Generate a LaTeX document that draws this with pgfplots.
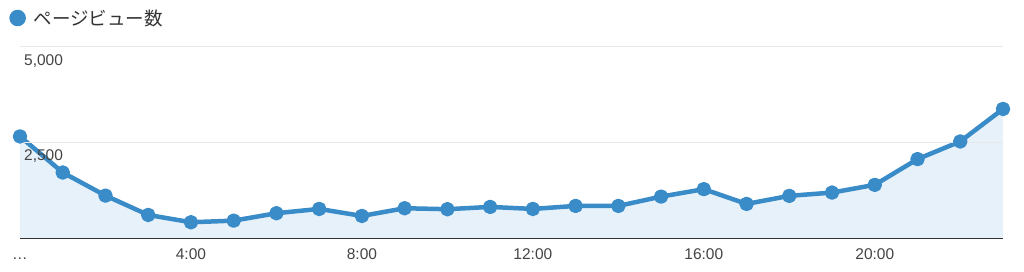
\documentclass[border=0pt]{standalone}
\usepackage{fontspec}
\setmainfont{Liberation Sans}
\newfontfamily\cjk{Noto Sans CJK JP}
\usepackage{pgfplots}
\pgfplotsset{compat=1.18}
\definecolor{lineblue}{RGB}{58,140,200}
\definecolor{fillblue}{RGB}{230,241,250}
\definecolor{gridc}{RGB}{232,232,232}
\definecolor{textc}{RGB}{68,68,68}
\definecolor{axisc}{RGB}{51,51,51}
\pgfplotstableread{
h v
0 2665
1 1723
2 1120
3 615
4 424
5 466
6 660
7 772
8 589
9 790
10 765
11 825
12 772
13 851
14 851
15 1094
16 1288
17 903
18 1113
19 1199
20 1401
21 2073
22 2534
23 3382
}\pv
\begin{document}
\begin{tikzpicture}
\useasboundingbox (-20pt,-33.5pt) rectangle (1004pt,238.5pt);
\begin{axis}[
  at={(0pt,0pt)}, anchor=south west,
  scale only axis, width=983pt, height=191.5pt,
  xmin=0, xmax=23, ymin=0, ymax=5000,
  axis lines*=left,
  axis on top,
  y axis line style={draw=none},
  x axis line style={draw=axisc, line width=1.5pt},
  ytick={2500,5000}, yticklabels={{2,500},{5,000}},
  ymajorgrids, grid style={draw=gridc, line width=1pt},
  xtick={0,4,8,12,16,20}, xticklabels={…,4:00,8:00,12:00,16:00,20:00},
  major tick length=0pt,
  tick label style={font=\fontsize{15.5}{18}\selectfont, text=textc},
  yticklabel style={anchor=north west, inner xsep=4pt, inner ysep=0pt, yshift=-7pt},
  xticklabel style={inner ysep=0pt, text height=11pt, text depth=0pt, yshift=-9.5pt},
  clip=false,
  legend style={at={(axis description cs:-0.011,1.1514)}, anchor=west, draw=none, fill=none,
    font=\cjk\fontsize{18.5}{22}\selectfont, text=axisc, inner sep=0pt},
  legend image code/.code={\fill[lineblue] (6pt,0pt) circle (6pt); \path[draw=none, fill=none] (0pt,0pt) rectangle (20pt,0.1pt);},
]
\addplot[fill=fillblue, draw=none, forget plot] table[x=h,y=v] {\pv} \closedcycle;
\addplot[lineblue, line width=4.5pt, line join=round, mark=*, mark size=5pt, mark options={fill=lineblue, draw=none}] table[x=h,y=v] {\pv};
\addlegendentry{ページビュー数}
\end{axis}
\end{tikzpicture}
\end{document}
